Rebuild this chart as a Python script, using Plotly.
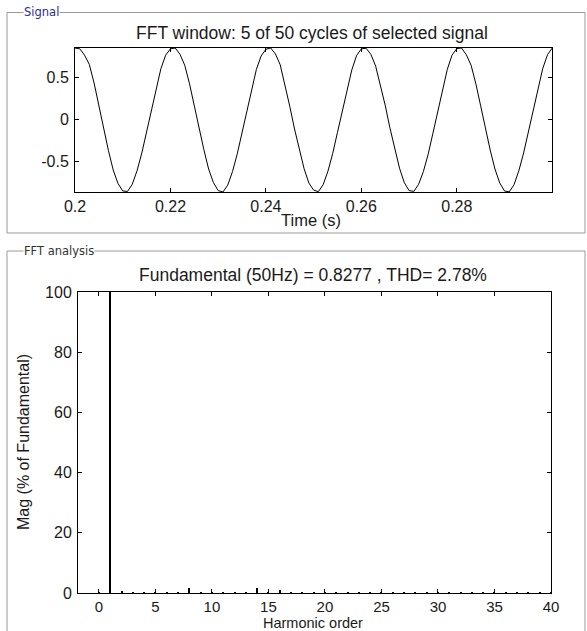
import plotly.graph_objects as go

W, H = 587, 631

# ---- Signal window (sampled every 1 ms, 0.200 .. 0.300 s) ----
t_start = 0.2
dt = 0.001
signal = [
    0.845, 0.835, 0.760, 0.650, 0.430, 0.150, -0.120, -0.370, -0.600, -0.760,
    -0.850, -0.855, -0.770, -0.610, -0.400, -0.150, 0.110, 0.370, 0.600, 0.760,
    0.835, 0.845, 0.770, 0.640, 0.420, 0.160, -0.110, -0.360, -0.590, -0.750,
    -0.845, -0.862, -0.780, -0.620, -0.410, -0.160, 0.100, 0.360, 0.590, 0.750,
    0.830, 0.845, 0.775, 0.645, 0.415, 0.155, -0.115, -0.365, -0.585, -0.755,
    -0.840, -0.858, -0.775, -0.615, -0.405, -0.155, 0.105, 0.365, 0.585, 0.755,
    0.835, 0.842, 0.770, 0.630, 0.410, 0.165, -0.105, -0.360, -0.580, -0.750,
    -0.845, -0.855, -0.770, -0.620, -0.415, -0.165, 0.095, 0.355, 0.590, 0.760,
    0.838, 0.845, 0.765, 0.640, 0.420, 0.160, -0.110, -0.365, -0.590, -0.755,
    -0.850, -0.860, -0.775, -0.610, -0.400, -0.150, 0.110, 0.370, 0.600, 0.765,
    0.845,
]
time_s = [round(t_start + i * dt, 4) for i in range(len(signal))]
signal_xticks = [0.2, 0.22, 0.24, 0.26, 0.28]
signal_xticklabels = ["0.2", "0.22", "0.24", "0.26", "0.28"]
signal_yticks = [-0.5, 0, 0.5]
signal_yticklabels = ["-0.5", "0", "0.5"]

# ---- FFT analysis (magnitude, % of fundamental) ----
harmonic_order = list(range(0, 41))
magnitude = [
    0.05, 100.0, 0.70, 0.05, 0.05, 0.05, 0.05, 0.05, 1.50, 0.05,
    0.05, 0.05, 0.05, 0.05, 1.70, 0.05, 0.90, 0.05, 0.05, 0.05,
    0.05, 0.05, 0.05, 0.05, 0.05, 0.05, 0.05, 0.05, 0.05, 0.05,
    0.05, 0.05, 0.05, 0.05, 0.05, 0.05, 0.05, 0.05, 0.05, 0.05,
    0.05,
]
fft_xticks = [0, 5, 10, 15, 20, 25, 30, 35, 40]
fft_yticks = [0, 20, 40, 60, 80, 100]

title_signal = "FFT window: 5 of 50 cycles of selected signal"
title_fft = "Fundamental (50Hz) = 0.8277 , THD= 2.78%"

FONT = "Liberation Sans, Arial, sans-serif"
TXT = "#1a1a1a"


def px(x):
    return x / W


def py(y):
    return 1 - y / H


fig = go.Figure()
fig.add_trace(go.Scatter(x=time_s, y=signal, mode="lines",
                         line=dict(color="black", width=1),
                         xaxis="x", yaxis="y", showlegend=False))
fig.add_trace(go.Bar(x=harmonic_order, y=magnitude, width=0.09,
                     marker=dict(color="black", line=dict(width=0)),
                     xaxis="x2", yaxis="y2", showlegend=False))

axis_common = dict(showline=True, linecolor="black", linewidth=1, mirror="allticks",
                   ticks="inside", ticklen=4, tickcolor="black", tickwidth=1,
                   showgrid=False, zeroline=False, automargin=False,
                   tickfont=dict(family=FONT, size=16, color=TXT))

fig.update_layout(
    width=W, height=H,
    margin=dict(l=0, r=0, t=0, b=0, pad=0),
    paper_bgcolor="white", plot_bgcolor="white",
    bargap=0,
    xaxis=dict(domain=[px(75), px(552)], anchor="y",
               range=[0.2, 0.29995], tickvals=signal_xticks, ticktext=signal_xticklabels,
               **axis_common),
    yaxis=dict(domain=[py(192), py(48)], anchor="x",
               range=[min(signal), max(signal)], tickvals=signal_yticks,
               ticktext=signal_yticklabels, ticklabelstandoff=2, **axis_common),
    xaxis2=dict(domain=[px(78), px(551)], anchor="y2",
                range=[-1.85, 40], tickvals=fft_xticks,
                **{**axis_common, "tickfont": dict(family=FONT, size=15, color=TXT)}),
    yaxis2=dict(domain=[py(593), py(292)], anchor="x2",
                range=[0, 100], tickvals=fft_yticks, ticklabelstandoff=2, **axis_common),
)

# group-box frames
frame = dict(color="#9a9a9a", width=1)
fig.add_shape(type="rect", xref="paper", yref="paper",
              x0=px(7), x1=px(585), y0=py(233), y1=py(12.5), line=frame)
fig.add_shape(type="rect", xref="paper", yref="paper",
              x0=px(7), x1=px(585), y0=py(660), y1=py(251), line=frame)

ann = []
ann.append(dict(text="Signal", x=px(23), y=py(12), xanchor="left", yanchor="middle",
                font=dict(family="DejaVu Sans", size=11.5, color="#2b2b9a"),
                bgcolor="white", borderpad=0))
ann.append(dict(text="FFT analysis", x=px(23), y=py(250.5), xanchor="left", yanchor="middle",
                font=dict(family="DejaVu Sans", size=11.5, color="#333333"),
                bgcolor="white", borderpad=0))
ann.append(dict(text=title_signal, x=px(312), y=py(33), xanchor="center", yanchor="middle",
                font=dict(family=FONT, size=17.5, color=TXT)))
ann.append(dict(text="Time (s)", x=px(311), y=py(220), xanchor="center", yanchor="middle",
                font=dict(family=FONT, size=16.5, color=TXT)))
ann.append(dict(text=title_fft, x=px(313), y=py(275), xanchor="center", yanchor="middle",
                font=dict(family=FONT, size=17.5, color=TXT)))
ann.append(dict(text="Mag (% of Fundamental)", x=px(23), y=py(442), xanchor="center",
                yanchor="middle", textangle=-90,
                font=dict(family=FONT, size=16, color=TXT)))
ann.append(dict(text="Harmonic order", x=px(313), y=py(623), xanchor="center",
                yanchor="middle", font=dict(family=FONT, size=14.5, color=TXT)))
for a in ann:
    a.update(xref="paper", yref="paper", showarrow=False)
fig.update_layout(annotations=ann)

fig.write_html(
    "out.html",
    config={"displayModeBar": False},
    post_script="document.body.style.margin='0';document.body.style.overflow='hidden';",
)
